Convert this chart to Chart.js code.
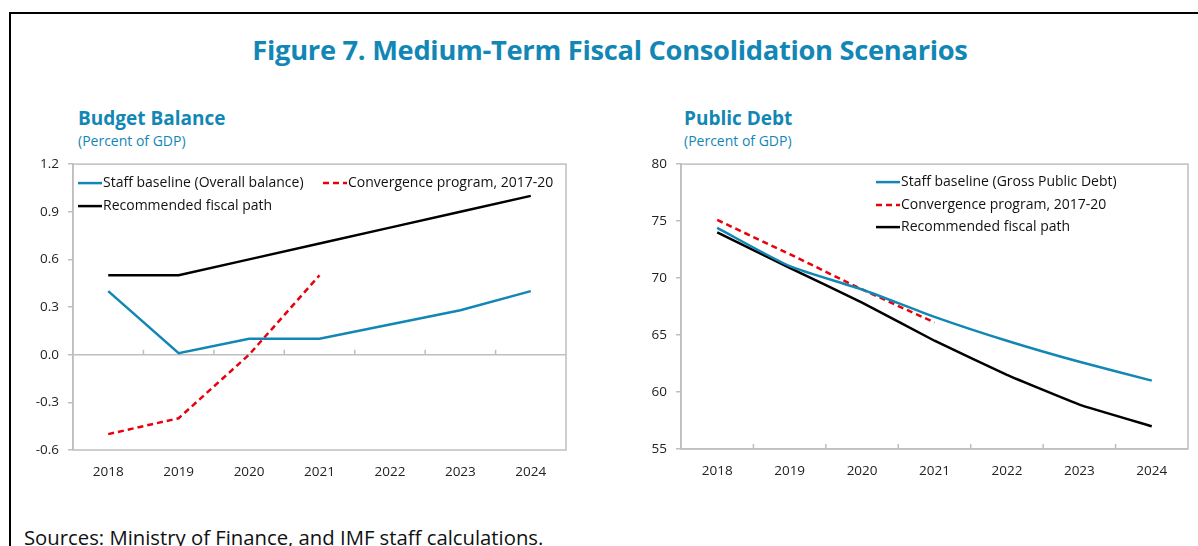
<!DOCTYPE html>
<html><head><meta charset="utf-8">
<script src="https://cdn.jsdelivr.net/npm/chart.js@4.4.0/dist/chart.umd.min.js"></script>
<style>
body{margin:0;background:#fff;}
#wrap{position:relative;width:1198px;height:546px;overflow:hidden;font-family:"Open Sans","Noto Sans",sans-serif;}
#frame{position:absolute;left:9px;top:12px;width:1400px;height:700px;border-left:2px solid #000;border-top:2px solid #000;}
#title{position:absolute;left:0;top:31px;width:1220px;text-align:center;font-weight:bold;font-size:27.3px;color:#1287b5;font-family:"Open Sans",sans-serif;letter-spacing:-0.3px;}
.sub{position:absolute;font-weight:bold;font-size:19px;color:#1287b5;}
.unit{position:absolute;font-size:14px;color:#1287b5;}
#src{position:absolute;left:24px;top:523px;font-size:20.3px;color:#111;white-space:nowrap;}
canvas{position:absolute;}
</style></head>
<body>
<div id="wrap">
  <div id="frame"></div>
  <div id="title">Figure 7. Medium-Term Fiscal Consolidation Scenarios</div>
  <div class="sub" style="left:78px;top:105px;">Budget Balance</div>
  <div class="unit" style="left:78px;top:131px;">(Percent of GDP)</div>
  <div class="sub" style="left:684px;top:105px;">Public Debt</div>
  <div class="unit" style="left:684px;top:131px;">(Percent of GDP)</div>
  <div id="c1w" style="position:absolute;left:0;top:147px;width:580px;height:343px;"><canvas id="c1"></canvas></div>
  <div id="c2w" style="position:absolute;left:600px;top:147px;width:598px;height:342px;"><canvas id="c2"></canvas></div>
  <div id="src">Sources: Ministry of Finance, and IMF staff calculations.</div>
</div>
<script>
// ---- data ----
const years = ['2018','2019','2020','2021','2022','2023','2024'];
const bbStaff = [0.4, 0.01, 0.1, 0.1, 0.19, 0.28, 0.4];
const bbConv  = [-0.5, -0.4, 0.0, 0.5, null, null, null];
const bbRec   = [0.5, 0.5, 0.6, 0.7, 0.8, 0.9, 1.0];
const bbTicks = [-0.6, -0.3, 0.0, 0.3, 0.6, 0.9, 1.2];
const pdStaff = [74.4, 71.05, 69.0, 66.6, 64.5, 62.65, 61.0];
const pdConv  = [75.1, 72.1, 69.0, 66.1, null, null, null];
const pdRec   = [74.0, 70.9, 67.85, 64.5, 61.5, 58.9, 57.0];
const pdTicks = [55, 60, 65, 70, 75, 80];
const bbNames = ['Staff baseline (Overall balance)', 'Convergence program, 2017-20', 'Recommended fiscal path'];
const pdNames = ['Staff baseline (Gross Public Debt)', 'Convergence program, 2017-20', 'Recommended fiscal path'];

const BLUE = '#1287b5', RED = '#e8000b', BLACK = '#000000', GRAY = '#bfbfbf';
const FONT = '"Open Sans","Noto Sans",sans-serif';

// plot box, x-axis tick marks and inline legend
const framePlugin = {
  id: 'framePlugin',
  afterDraw(chart, args, opts) {
    const {ctx, chartArea: a, scales} = chart;
    ctx.save();
    ctx.strokeStyle = GRAY; ctx.lineWidth = 1.5;
    ctx.strokeRect(a.left, a.top, a.right - a.left, a.bottom - a.top);
    const xs = scales.x, ys = scales.y;
    const yBase = ys.getPixelForValue(opts.base);
    ctx.beginPath();
    for (let i = 1; i < xs.ticks.length; i++) {
      const xb = (xs.getPixelForValue(i - 1) + xs.getPixelForValue(i)) / 2;
      ctx.moveTo(xb, yBase); ctx.lineTo(xb, yBase - 5);
    }
    ctx.stroke();
    ctx.font = '14px ' + FONT; ctx.textBaseline = 'middle';
    opts.legend.forEach(it => {
      const ds = chart.data.datasets[it.i];
      const x = a.left + it.dx, y = a.top + it.dy;
      ctx.strokeStyle = ds.borderColor; ctx.lineWidth = 2.5;
      ctx.setLineDash(ds.borderDash || []);
      ctx.beginPath(); ctx.moveTo(x, y); ctx.lineTo(x + 24, y); ctx.stroke();
      ctx.setLineDash([]);
      ctx.fillStyle = '#111';
      ctx.fillText(ds.label, x + 25, y);
    });
    ctx.restore();
  }
};

function makeChart(id, names, s, c, r, ticks, yMin, yMax, yWidth, padRight, fmt, base, legend, tension) {
  return new Chart(document.getElementById(id), {
    type: 'line',
    data: {
      labels: years,
      datasets: [
        {label: names[0], data: s, borderColor: BLUE, borderWidth: 2.5, pointRadius: 0, tension: tension},
        {label: names[1], data: c, borderColor: RED, borderWidth: 2.5, borderDash: [6, 4], pointRadius: 0, tension: 0},
        {label: names[2], data: r, borderColor: BLACK, borderWidth: 2.5, pointRadius: 0, tension: tension * 0.5}
      ]
    },
    options: {
      responsive: true, maintainAspectRatio: false, animation: false,
      layout: {padding: {left: 0, right: padRight, top: 9, bottom: 0}},
      plugins: {legend: {display: false}, tooltip: {enabled: false},
        framePlugin: {base: base, legend: legend}},
      scales: {
        x: {
          offset: true,
          grid: {display: false},
          border: {display: false},
          ticks: {color: '#222', font: {family: FONT, size: 13.5}, padding: 6, maxRotation: 0},
          afterFit(sc) { sc.height = 40; }
        },
        y: {
          min: yMin, max: yMax,
          afterBuildTicks(sc) { sc.ticks = ticks.map(v => ({value: v})); },
          afterFit(sc) { sc.width = yWidth; },
          grid: {
            color: ctx => (ctx.tick && ctx.tick.value === base) ? GRAY : 'rgba(0,0,0,0)',
            tickColor: GRAY, tickLength: 5, lineWidth: 1.5
          },
          border: {display: true, color: GRAY, width: 1.5},
          ticks: {color: '#222', font: {family: FONT, size: 13.5}, padding: 9, callback: v => fmt(v)}
        }
      }
    },
    plugins: [framePlugin]
  });
}

makeChart('c1', bbNames, bbStaff, bbConv, bbRec, bbTicks, -0.6, 1.2, 73, 14,
  v => Number(v).toFixed(1), 0,
  [{i: 0, dx: 5, dy: 19}, {i: 1, dx: 250, dy: 19}, {i: 2, dx: 5, dy: 42}], 0);
makeChart('c2', pdNames, pdStaff, pdConv, pdRec, pdTicks, 55, 80, 81, 10,
  v => String(Math.round(v)), 55,
  [{i: 0, dx: 195, dy: 18}, {i: 1, dx: 195, dy: 41}, {i: 2, dx: 195, dy: 63}], 0.2);
</script>
</body></html>
